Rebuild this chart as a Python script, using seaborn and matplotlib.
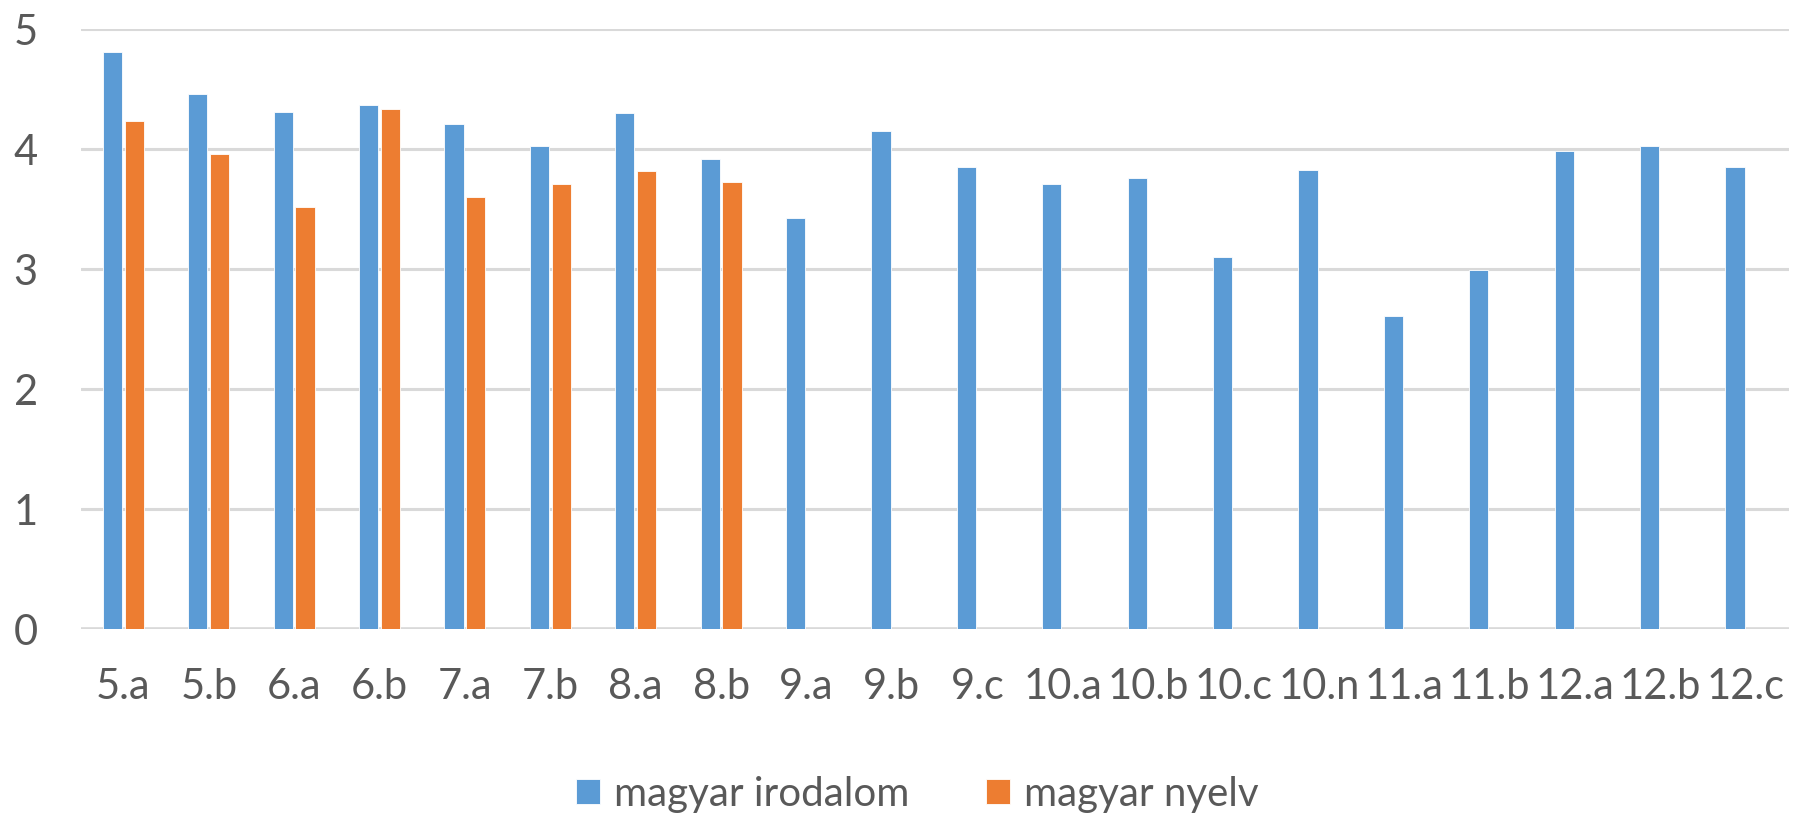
import matplotlib
matplotlib.use("Agg")
import matplotlib.pyplot as plt
import seaborn as sns
import pandas as pd

categories = ["5.a", "5.b", "6.a", "6.b", "7.a", "7.b", "8.a", "8.b", "9.a", "9.b",
              "9.c", "10.a", "10.b", "10.c", "10.n", "11.a", "11.b", "12.a", "12.b", "12.c"]
irodalom = [4.81, 4.46, 4.31, 4.37, 4.21, 4.03, 4.30, 3.92, 3.43, 4.15,
            3.85, 3.71, 3.76, 3.10, 3.83, 2.61, 2.99, 3.99, 4.03, 3.85]
nyelv_categories = ["5.a", "5.b", "6.a", "6.b", "7.a", "7.b", "8.a", "8.b"]
nyelv = [4.24, 3.96, 3.52, 4.34, 3.60, 3.71, 3.82, 3.73]
series_names = ["magyar irodalom", "magyar nyelv"]
yticks = [0, 1, 2, 3, 4, 5]

rows = [(c, v, series_names[0]) for c, v in zip(categories, irodalom)]
rows += [(c, v, series_names[1]) for c, v in zip(nyelv_categories, nyelv)]
df = pd.DataFrame(rows, columns=["osztaly", "atlag", "targy"])

sns.set_theme(style="white")
plt.rcParams["font.family"] = ["Lato", "DejaVu Sans"]

fig = plt.figure(figsize=(17.93, 8.15), dpi=100)
ax = fig.add_axes([0.045, 0.228, 0.9525, 0.736])

sns.barplot(data=df, x="osztaly", y="atlag", hue="targy", order=categories,
            hue_order=series_names, palette=["#5B9BD5", "#ED7D31"],
            width=0.51, gap=0.12, ax=ax, errorbar=None, saturation=1,
            edgecolor="white", linewidth=0.6)

ax.set_ylim(0, 5)
ax.set_yticks(yticks)
ax.set_xlim(-0.5, len(categories) - 0.5)
ax.yaxis.grid(True, color="#d9d9d9", linewidth=2.2)
ax.set_axisbelow(True)
for s in ax.spines.values():
    s.set_visible(False)
ax.axhline(0, color="#d9d9d9", linewidth=2.6, zorder=0.5)
ax.set_xlabel("")
ax.set_ylabel("")
ax.tick_params(axis="y", length=0, pad=31, labelsize=30, labelcolor="#595959")
ax.tick_params(axis="x", length=0, pad=28, labelsize=30, labelcolor="#595959")

leg = ax.legend(loc="center", bbox_to_anchor=(0.49, -0.275), ncol=2, frameon=False,
                fontsize=29, handlelength=0.6, handleheight=0.6,
                handletextpad=0.35, columnspacing=1.9, labelcolor="#595959")

fig.savefig("out.png", dpi=100, facecolor="white")
